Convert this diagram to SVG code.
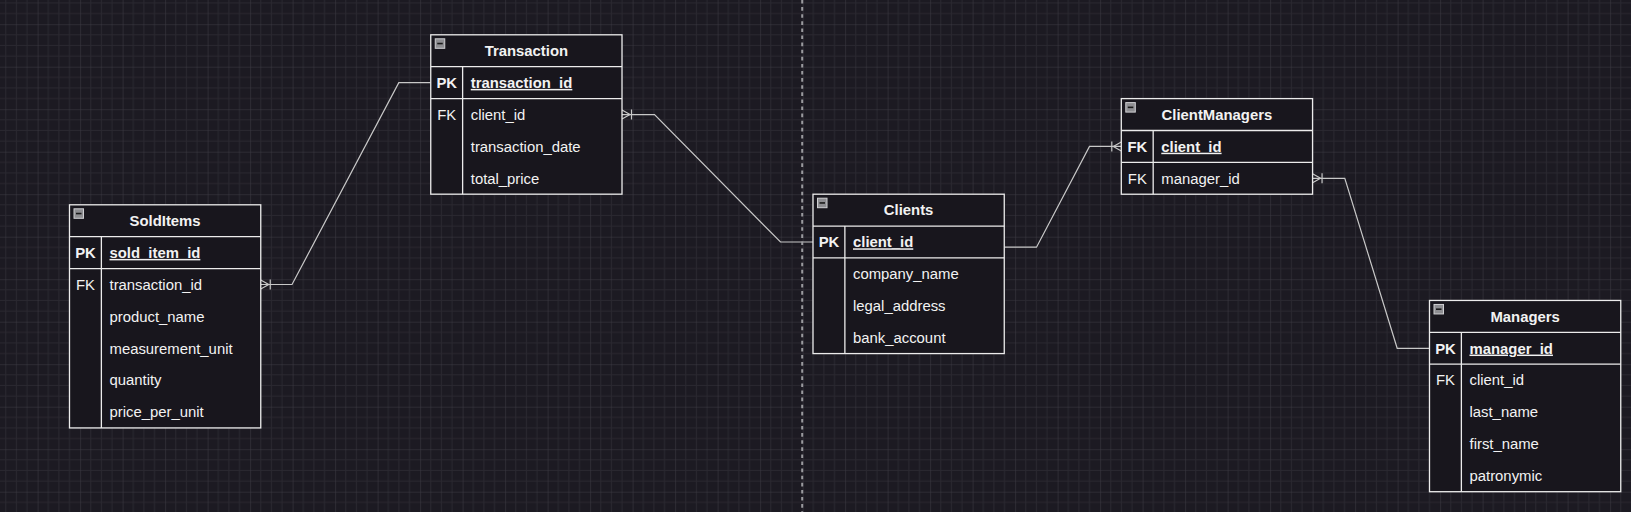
<svg xmlns="http://www.w3.org/2000/svg" width="1631" height="512" viewBox="0 0 1631 512">
<style>
.bg{fill:#1c1a22}
.minor{stroke:#2a2830;stroke-width:1}
.major{stroke:#3e3c45;stroke-width:1}
.tbl{fill:#18161d;stroke:#ececec;stroke-width:1.3}
.sep{stroke:#ececec;stroke-width:1.3;fill:none}
.ico{fill:#8e8e92;stroke:#cfcfd2;stroke-width:1}
.icol{stroke:#1a1a1a;stroke-width:1.6}
text{font-family:"Liberation Sans",Arial,sans-serif;font-size:14.875px;fill:#f2f2f2}
.hd{font-weight:bold;text-anchor:middle}
.k{text-anchor:middle}
.b{font-weight:bold}
.u{font-weight:bold;text-decoration:underline}
.conn{stroke:#c8c8c8;stroke-width:1.2;fill:none}
.mk{stroke:#c8c8c8;stroke-width:1.2;fill:none}
.dash{stroke:#9a9a9e;stroke-width:2;stroke-dasharray:3.6 3.5}
</style>
<defs>
<pattern id="grid" patternUnits="userSpaceOnUse" x="37.625" y="-18.3" width="42.5" height="42.5">
<path class="minor" d="M10.625 0V42.5M21.25 0V42.5M31.875 0V42.5M0 10.625H42.5M0 21.25H42.5M0 31.875H42.5"/>
<path class="major" d="M0 0V42.5M0 0H42.5"/>
</pattern>
<marker id="crow" markerUnits="userSpaceOnUse" viewBox="-12 -7 14 14" refX="0" refY="0" markerWidth="14" markerHeight="14" orient="auto-start-reverse">
<path class="mk" d="M0 -4.5L-8 0L0 4.5M-9.5 -5V5"/>
</marker>
</defs>
<rect class="bg" x="0" y="0" width="1631" height="512"/>
<rect x="0" y="0" width="1631" height="512" fill="url(#grid)"/>

<g id="connectors">
<path class="conn" d="M260.75 284.5H292L398.8 82.6H430.75" marker-start="url(#crow)"/>
<path class="conn" d="M622 114.6H654.5L780.5 242H813" marker-start="url(#crow)"/>
<path class="conn" d="M1004.3 247.2H1036.5L1089.5 146.4H1121.3" marker-end="url(#crow)"/>
<path class="conn" d="M1312.55 178.3H1344.8L1397.2 348.3H1429.5" marker-start="url(#crow)"/>
</g>

<line class="dash" x1="802.2" y1="0" x2="802.2" y2="512"/>

<g id="SoldItems" transform="translate(69.5 204.8)">
<rect class="tbl" x="0" y="0" width="191.25" height="223.125"/>
<path class="sep" d="M0 31.875H191.25M0 63.75H191.25M31.875 31.875V223.125"/>
<rect class="ico" x="4.5" y="4" width="9.5" height="9.5"/><line class="icol" x1="6.5" y1="8.75" x2="12" y2="8.75"/>
<text class="hd" x="95.6" y="21.3">SoldItems</text>
<text class="k b" x="16" y="53.1">PK</text><text class="u" x="40" y="53.1">sold_item_id</text>
<text class="k" x="16" y="85">FK</text><text x="40" y="85">transaction_id</text>
<text x="40" y="116.9">product_name</text>
<text x="40" y="148.8">measurement_unit</text>
<text x="40" y="180.6">quantity</text>
<text x="40" y="212.5">price_per_unit</text>
</g>

<g id="Transaction" transform="translate(430.75 34.8)">
<rect class="tbl" x="0" y="0" width="191.25" height="159.375"/>
<path class="sep" d="M0 31.875H191.25M0 63.75H191.25M31.875 31.875V159.375"/>
<rect class="ico" x="4.5" y="4" width="9.5" height="9.5"/><line class="icol" x1="6.5" y1="8.75" x2="12" y2="8.75"/>
<text class="hd" x="95.6" y="21.3">Transaction</text>
<text class="k b" x="16" y="53.1">PK</text><text class="u" x="40" y="53.1">transaction_id</text>
<text class="k" x="16" y="85">FK</text><text x="40" y="85">client_id</text>
<text x="40" y="116.9">transaction_date</text>
<text x="40" y="148.8">total_price</text>
</g>

<g id="Clients" transform="translate(813 194.2)">
<rect class="tbl" x="0" y="0" width="191.25" height="159.375"/>
<path class="sep" d="M0 31.875H191.25M0 63.75H191.25M31.875 31.875V159.375"/>
<rect class="ico" x="4.5" y="4" width="9.5" height="9.5"/><line class="icol" x1="6.5" y1="8.75" x2="12" y2="8.75"/>
<text class="hd" x="95.6" y="21.3">Clients</text>
<text class="k b" x="16" y="53.1">PK</text><text class="u" x="40" y="53.1">client_id</text>
<text x="40" y="85">company_name</text>
<text x="40" y="116.9">legal_address</text>
<text x="40" y="148.8">bank_account</text>
</g>

<g id="ClientManagers" transform="translate(1121.3 98.6)">
<rect class="tbl" x="0" y="0" width="191.25" height="95.625"/>
<path class="sep" d="M0 31.875H191.25M0 63.75H191.25M31.875 31.875V95.625"/>
<rect class="ico" x="4.5" y="4" width="9.5" height="9.5"/><line class="icol" x1="6.5" y1="8.75" x2="12" y2="8.75"/>
<text class="hd" x="95.6" y="21.3">ClientManagers</text>
<text class="k b" x="16" y="53.1">FK</text><text class="u" x="40" y="53.1">client_id</text>
<text class="k" x="16" y="85">FK</text><text x="40" y="85">manager_id</text>
</g>

<g id="Managers" transform="translate(1429.5 300.45)">
<rect class="tbl" x="0" y="0" width="191.25" height="191.25"/>
<path class="sep" d="M0 31.875H191.25M0 63.75H191.25M31.875 31.875V191.25"/>
<rect class="ico" x="4.5" y="4" width="9.5" height="9.5"/><line class="icol" x1="6.5" y1="8.75" x2="12" y2="8.75"/>
<text class="hd" x="95.6" y="21.3">Managers</text>
<text class="k b" x="16" y="53.1">PK</text><text class="u" x="40" y="53.1">manager_id</text>
<text class="k" x="16" y="85">FK</text><text x="40" y="85">client_id</text>
<text x="40" y="116.9">last_name</text>
<text x="40" y="148.8">first_name</text>
<text x="40" y="180.6">patronymic</text>
</g>
</svg>
